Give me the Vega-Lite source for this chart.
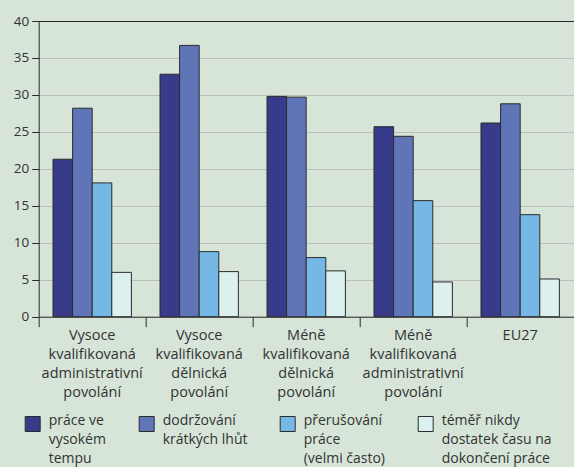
{
  "$schema": "https://vega.github.io/schema/vega-lite/v6.json",
  "width": 535,
  "height": 295.7,
  "autosize": "none",
  "padding": {"left": 38.7, "top": 21, "right": 0, "bottom": 150.3},
  "background": "#d6e5d8",
  "config": {"view": {"stroke": null}, "font": "Open Sans", "style": {"guide-label": {"lineHeight": 19}}},
  "data": {"values": [
    {"group": "Vysoce|kvalifikovaná|administrativní|povolání", "series": "práce ve|vysokém|tempu", "value": 21.3},
    {"group": "Vysoce|kvalifikovaná|administrativní|povolání", "series": "dodržování|krátkých lhůt", "value": 28.2},
    {"group": "Vysoce|kvalifikovaná|administrativní|povolání", "series": "přerušování|práce|(velmi často)", "value": 18.1},
    {"group": "Vysoce|kvalifikovaná|administrativní|povolání", "series": "téměř nikdy|dostatek času na|dokončení práce", "value": 6.0},
    {"group": "Vysoce|kvalifikovaná|dělnická|povolání", "series": "práce ve|vysokém|tempu", "value": 32.8},
    {"group": "Vysoce|kvalifikovaná|dělnická|povolání", "series": "dodržování|krátkých lhůt", "value": 36.7},
    {"group": "Vysoce|kvalifikovaná|dělnická|povolání", "series": "přerušování|práce|(velmi často)", "value": 8.8},
    {"group": "Vysoce|kvalifikovaná|dělnická|povolání", "series": "téměř nikdy|dostatek času na|dokončení práce", "value": 6.1},
    {"group": "Méně|kvalifikovaná|dělnická|povolání", "series": "práce ve|vysokém|tempu", "value": 29.8},
    {"group": "Méně|kvalifikovaná|dělnická|povolání", "series": "dodržování|krátkých lhůt", "value": 29.7},
    {"group": "Méně|kvalifikovaná|dělnická|povolání", "series": "přerušování|práce|(velmi často)", "value": 8.0},
    {"group": "Méně|kvalifikovaná|dělnická|povolání", "series": "téměř nikdy|dostatek času na|dokončení práce", "value": 6.2},
    {"group": "Méně|kvalifikovaná|administrativní|povolání", "series": "práce ve|vysokém|tempu", "value": 25.7},
    {"group": "Méně|kvalifikovaná|administrativní|povolání", "series": "dodržování|krátkých lhůt", "value": 24.4},
    {"group": "Méně|kvalifikovaná|administrativní|povolání", "series": "přerušování|práce|(velmi často)", "value": 15.7},
    {"group": "Méně|kvalifikovaná|administrativní|povolání", "series": "téměř nikdy|dostatek času na|dokončení práce", "value": 4.7},
    {"group": "EU27", "series": "práce ve|vysokém|tempu", "value": 26.2},
    {"group": "EU27", "series": "dodržování|krátkých lhůt", "value": 28.8},
    {"group": "EU27", "series": "přerušování|práce|(velmi často)", "value": 13.8},
    {"group": "EU27", "series": "téměř nikdy|dostatek času na|dokončení práce", "value": 5.1}
  ]},
  "mark": {"type": "bar", "stroke": "#2a2a2a", "strokeWidth": 1},
  "encoding": {
    "x": {
      "field": "group", "type": "nominal", "sort": null,
      "scale": {"paddingInner": 0, "paddingOuter": 0},
      "axis": {
        "title": null, "labelAngle": 0, "bandPosition": 0,
        "labelExpr": "split(datum.label, '|')", "labelLineHeight": 19,
        "labelFontSize": 14.5, "labelColor": "#333333", "labelBaseline": "top",
        "labelPadding": 2, "tickSize": 10, "tickColor": "#2a2a2a",
        "domainColor": "#2a2a2a", "grid": false
      }
    },
    "xOffset": {
      "field": "series", "type": "nominal",
      "sort": ["práce ve|vysokém|tempu", "dodržování|krátkých lhůt", "přerušování|práce|(velmi často)", "téměř nikdy|dostatek času na|dokončení práce"],
      "scale": {"paddingInner": 0, "paddingOuter": 0.73}
    },
    "y": {
      "field": "value", "type": "quantitative",
      "scale": {"domain": [0, 40], "nice": false},
      "axis": {
        "title": null, "values": [0, 5, 10, 15, 20, 25, 30, 35, 40],
        "labelFontSize": 13.5, "labelColor": "#333333", "labelPadding": 3,
        "tickSize": 7, "tickColor": "#2a2a2a", "domainColor": "#2a2a2a",
        "grid": true,
        "gridColor": {"condition": {"test": "datum.value === 40", "value": "#2a2a2a"}, "value": "#bdbdbd"},
        "gridWidth": 1.2
      }
    },
    "color": {
      "field": "series", "type": "nominal",
      "scale": {
        "domain": ["práce ve|vysokém|tempu", "dodržování|krátkých lhůt", "přerušování|práce|(velmi často)", "téměř nikdy|dostatek času na|dokončení práce"],
        "range": ["#383a8a", "#6074b8", "#76b8e5", "#dcf0f0"]
      },
      "legend": {
        "title": null, "orient": "none", "legendX": -14, "legendY": 395,
        "direction": "horizontal", "columns": 4, "columnPadding": 30,
        "symbolType": "square", "symbolSize": 225, "symbolStrokeColor": "#2a2a2a",
        "symbolStrokeWidth": 1, "symbolOpacity": 1,
        "labelExpr": "split(length(split(datum.label, '|')) < 3 ? datum.label + '| ' : datum.label, '|')",
        "labelFontSize": 14, "labelColor": "#333333", "labelBaseline": "top",
        "labelOffset": 8, "labelLimit": 200,
        "encode": {"labels": {"update": {"dy": {"value": -10}, "lineHeight": {"value": 19}}}}
      }
    }
  }
}
